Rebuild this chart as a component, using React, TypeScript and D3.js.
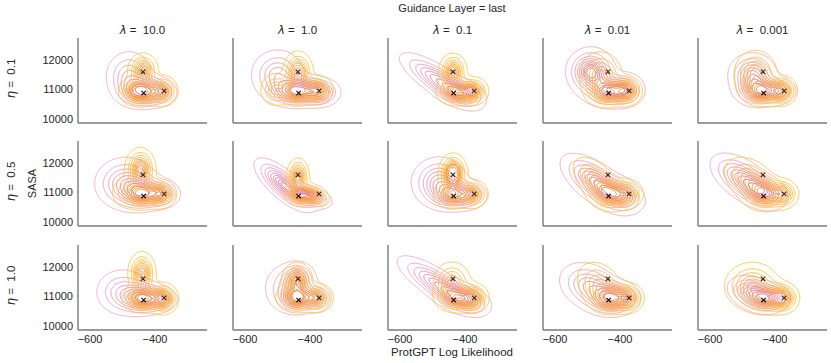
import React, { useMemo } from "react";
import * as d3 from "d3";

// ---------- data ----------
const lambdaLabels = ["10.0", "1.0", "0.1", "0.01", "0.001"];
const etaLabels = ["0.1", "0.5", "1.0"];
const xTicks = [-600, -400];
const yTicks = [10000, 11000, 12000];
const xDomain = [-637, -240];
const yDomain = [9864, 12746];

// target points drawn as "x" markers
const targetX = [-437, -435, -372];
const targetY = [11600, 10880, 10950];
const targetColors = ["#3d2b1f", "#1c1428", "#4a3318"];

// Gaussian mixture components: [cx, cy, sx, sy, rho, weight]
type Comp = [number, number, number, number, number, number];

const pinkMixtures: Comp[][] = [
  // row eta=0.1
  [[-440, 10950, 35, 260, 0, 0.5], [-480, 11450, 35, 420, 0, 0.35], [-390, 10900, 28, 230, 0, 0.15]],
  [[-500, 11500, 40, 420, 0, 0.35], [-440, 10950, 40, 250, 0, 0.45], [-370, 10900, 30, 230, 0, 0.2]],
  [[-478, 11280, 55, 430, -0.8, 0.65], [-415, 10900, 35, 220, -0.3, 0.35]],
  [[-490, 11600, 35, 380, 0, 0.5], [-430, 10950, 40, 280, 0, 0.35], [-380, 11000, 28, 280, 0, 0.15]],
  [[-470, 11500, 35, 350, 0, 0.45], [-450, 10950, 35, 250, 0, 0.4], [-390, 10950, 28, 230, 0, 0.15]],
  // row eta=0.5
  [[-490, 11300, 45, 420, 0, 0.5], [-440, 11000, 35, 280, 0, 0.35], [-380, 10950, 28, 230, 0, 0.15]],
  [[-480, 11250, 40, 400, -0.75, 0.7], [-400, 10850, 30, 180, -0.4, 0.3]],
  [[-480, 11350, 40, 400, 0, 0.5], [-440, 10950, 35, 260, 0, 0.35], [-390, 10900, 28, 230, 0, 0.15]],
  [[-470, 11300, 50, 450, -0.65, 0.7], [-400, 10950, 35, 280, -0.3, 0.3]],
  [[-500, 11450, 45, 400, -0.55, 0.6], [-440, 11050, 35, 280, -0.3, 0.4]],
  // row eta=1.0
  [[-440, 10950, 35, 250, 0, 0.5], [-500, 11150, 40, 380, 0, 0.35], [-390, 10900, 28, 200, 0, 0.15]],
  [[-440, 11600, 28, 280, 0, 0.3], [-440, 10950, 30, 250, 0, 0.4], [-490, 11300, 30, 400, 0, 0.15], [-380, 10950, 22, 230, 0, 0.15]],
  [[-482, 11400, 57, 440, -0.8, 0.6], [-410, 10950, 40, 260, -0.4, 0.4]],
  [[-490, 11300, 45, 400, -0.3, 0.5], [-420, 10950, 35, 260, 0, 0.5]],
  [[-470, 11100, 35, 280, -0.3, 0.55], [-420, 10950, 30, 230, 0, 0.45]],
];

const orangeMixtures: Comp[][] = [
  // row eta=0.1
  [[-437, 11650, 22, 280, 0, 0.3], [-440, 10920, 28, 230, 0, 0.35], [-375, 10950, 22, 250, 0, 0.25], [-470, 10950, 22, 230, 0, 0.1]],
  [[-437, 11600, 22, 330, 0, 0.3], [-440, 10950, 30, 230, 0, 0.35], [-375, 10980, 22, 230, 0, 0.2], [-510, 11000, 22, 280, 0, 0.15]],
  [[-437, 11620, 20, 280, 0, 0.35], [-430, 10920, 28, 220, 0, 0.35], [-375, 10950, 22, 220, 0, 0.3]],
  [[-460, 11500, 32, 380, 0, 0.4], [-440, 10900, 30, 230, 0, 0.35], [-380, 10950, 22, 230, 0, 0.25]],
  [[-460, 11550, 32, 380, 0, 0.4], [-440, 10950, 30, 230, 0, 0.35], [-380, 10950, 22, 230, 0, 0.25]],
  // row eta=0.5
  [[-445, 11800, 22, 330, 0, 0.35], [-440, 10950, 30, 250, 0, 0.35], [-380, 10950, 22, 230, 0, 0.2], [-490, 11000, 25, 280, 0, 0.1]],
  [[-437, 11550, 16, 280, 0, 0.4], [-430, 10930, 22, 180, 0, 0.35], [-385, 10900, 22, 180, -0.3, 0.25]],
  [[-437, 11650, 20, 300, 0, 0.45], [-440, 10920, 28, 230, 0, 0.3], [-375, 10950, 22, 230, 0, 0.25]],
  [[-470, 11350, 35, 400, -0.55, 0.45], [-430, 10950, 30, 250, 0, 0.35], [-375, 10950, 22, 230, 0, 0.2]],
  [[-470, 11350, 40, 400, -0.4, 0.5], [-430, 10950, 30, 250, 0, 0.3], [-375, 10950, 22, 230, 0, 0.2]],
  // row eta=1.0
  [[-440, 11800, 20, 330, 0, 0.35], [-440, 10930, 28, 220, 0, 0.35], [-375, 10930, 22, 250, 0, 0.3]],
  [[-440, 11550, 22, 280, 0, 0.35], [-440, 10950, 30, 230, 0, 0.4], [-375, 10950, 22, 230, 0, 0.25]],
  [[-440, 11500, 28, 330, 0, 0.35], [-430, 10950, 30, 230, 0, 0.35], [-375, 10950, 22, 230, 0, 0.3]],
  [[-460, 11350, 35, 400, -0.3, 0.4], [-430, 10950, 30, 230, 0, 0.35], [-375, 10950, 22, 230, 0, 0.25]],
  [[-470, 11350, 40, 380, 0, 0.5], [-420, 10950, 35, 260, 0, 0.3], [-375, 10950, 22, 230, 0, 0.2]],
];

const seriesColors = [
  { name: "pink", light: "#f3a6c1", dark: "#dc5a8b", mixtures: pinkMixtures },
  { name: "orange", light: "#ffc536", dark: "#f08a24", mixtures: orangeMixtures },
];

// ---------- layout ----------
const W = 831, H = 363;
const PW = 129, PH = 85;
const colLeft = [78, 233, 388, 543, 698];
const rowTop = [38, 141, 245];
const PAD = 12;
const FONT = "'Liberation Sans', Arial, sans-serif";
const TXT = "#262626";

function mixtureDensity(comps: Comp[], x: number, y: number) {
  let s = 0;
  for (const [cx, cy, sx, sy, r, w] of comps) {
    const dx = (x - cx) / sx, dy = (y - cy) / sy;
    const om = 1 - r * r;
    const q = (dx * dx - 2 * r * dx * dy + dy * dy) / om;
    s += (w * Math.exp(-q / 2)) / (2 * Math.PI * sx * sy * Math.sqrt(om));
  }
  return s;
}

function Panel({ row, col }: { row: number; col: number }) {
  const left = colLeft[col], top = rowTop[row];
  const x = d3.scaleLinear().domain(xDomain).range([0, PW]);
  const y = d3.scaleLinear().domain(yDomain).range([PH, 0]);
  const idx = row * 5 + col;

  const layers = useMemo(() => {
    const n = PW + 2 * PAD, m = PH + 2 * PAD;
    const path = d3.geoPath();
    return seriesColors.map((sc) => {
      const comps = sc.mixtures[idx];
      const vals = new Float64Array(n * m);
      for (let j = 0; j < m; j++)
        for (let i = 0; i < n; i++)
          vals[j * n + i] = mixtureDensity(comps, x.invert(i + 0.5 - PAD), y.invert(j + 0.5 - PAD));
      const sorted = Array.from(vals).sort((a, b) => b - a);
      const total = d3.sum(sorted);
      const cum: number[] = [];
      let acc = 0;
      for (const v of sorted) { acc += v; cum.push(acc / total); }
      const iso = d3.range(10).map((k) => 0.05 + (0.95 * k) / 9);
      const levels = iso.map((q) => {
        const t = 1 - q;
        const k = d3.bisectLeft(cum, t);
        return sorted[Math.min(k, sorted.length - 1)];
      });
      const cont = d3.contours().size([n, m]).thresholds(levels.slice(0, 9))(Array.from(vals));
      const color = d3.interpolateRgb(sc.light, sc.dark);
      return cont.map((c, k) => ({ d: path(c) || "", color: color(k / 8) }));
    });
  }, [idx]);

  return (
    <g transform={`translate(${left},${top})`}>
      <defs>
        <clipPath id={`clip-${idx}`}>
          <rect x={0} y={0} width={PW} height={PH} />
        </clipPath>
      </defs>
      <g clipPath={`url(#clip-${idx})`}>
        {layers.map((layer, li) => (
          <g key={li} transform={`translate(${-PAD},${-PAD})`}>
            {layer.map((c, k) => (
              <path key={k} d={c.d} fill="none" stroke={c.color} strokeWidth={1} strokeOpacity={0.95} />
            ))}
          </g>
        ))}
        {targetX.map((tx, k) => {
          const cx = x(tx), cy = y(targetY[k]);
          const s = 2.2;
          return (
            <path key={k} d={`M${cx - s},${cy - s}L${cx + s},${cy + s}M${cx - s},${cy + s}L${cx + s},${cy - s}`}
              stroke={targetColors[k]} strokeWidth={1.2} />
          );
        })}
      </g>
      {/* spines */}
      <line x1={0} x2={0} y1={0} y2={PH} stroke="#7a7a7a" strokeWidth={1.4} />
      <line x1={0} x2={PW} y1={PH} y2={PH} stroke="#7a7a7a" strokeWidth={1.4} />
      {col === 0 && yTicks.map((t) => (
        <text key={t} x={-5} y={y(t)} dy="0.35em" textAnchor="end" fontSize={11} fill={TXT} fontFamily={FONT}>{t}</text>
      ))}
      {row === 2 && xTicks.map((t) => (
        <text key={t} x={x(t)} y={PH + 13} textAnchor="middle" fontSize={11} fill={TXT} fontFamily={FONT}>{"\u2212" + Math.abs(t)}</text>
      ))}
      {row === 0 && (
        <text x={PW / 2} y={-4} textAnchor="middle" fontSize={11.5} fill={TXT} fontFamily={FONT}>
          <tspan fontFamily="'DejaVu Sans', sans-serif" fontStyle="italic">λ</tspan>
          <tspan>{" =\u00a0 " + lambdaLabels[col]}</tspan>
        </text>
      )}
    </g>
  );
}

export default function App() {
  return (
    <svg width={W} height={H} style={{ position: "absolute", left: 0, top: 0, background: "#fff" }}>
      <rect width={W} height={H} fill="#fff" />
      <text x={452} y={12} textAnchor="middle" fontSize={11} fill={TXT} fontFamily={FONT}>Guidance Layer = last</text>
      {etaLabels.map((e, r) => (
        <text key={e} transform={`translate(15,${rowTop[r] + PH / 2 - 2}) rotate(-90)`} textAnchor="middle" fontSize={11.5} fill={TXT} fontFamily={FONT}>
          <tspan fontFamily="'DejaVu Sans', sans-serif" fontStyle="italic">η</tspan>
          <tspan>{" =\u00a0 " + e}</tspan>
        </text>
      ))}
      <text transform={`translate(36,${rowTop[1] + PH / 2}) rotate(-90)`} textAnchor="middle" fontSize={11} fill={TXT} fontFamily={FONT}>SASA</text>
      <text x={452} y={356} textAnchor="middle" fontSize={11.5} fill={TXT} fontFamily={FONT}>ProtGPT Log Likelihood</text>
      {d3.range(3).map((r) => d3.range(5).map((c) => <Panel key={`${r}-${c}`} row={r} col={c} />))}
    </svg>
  );
}
